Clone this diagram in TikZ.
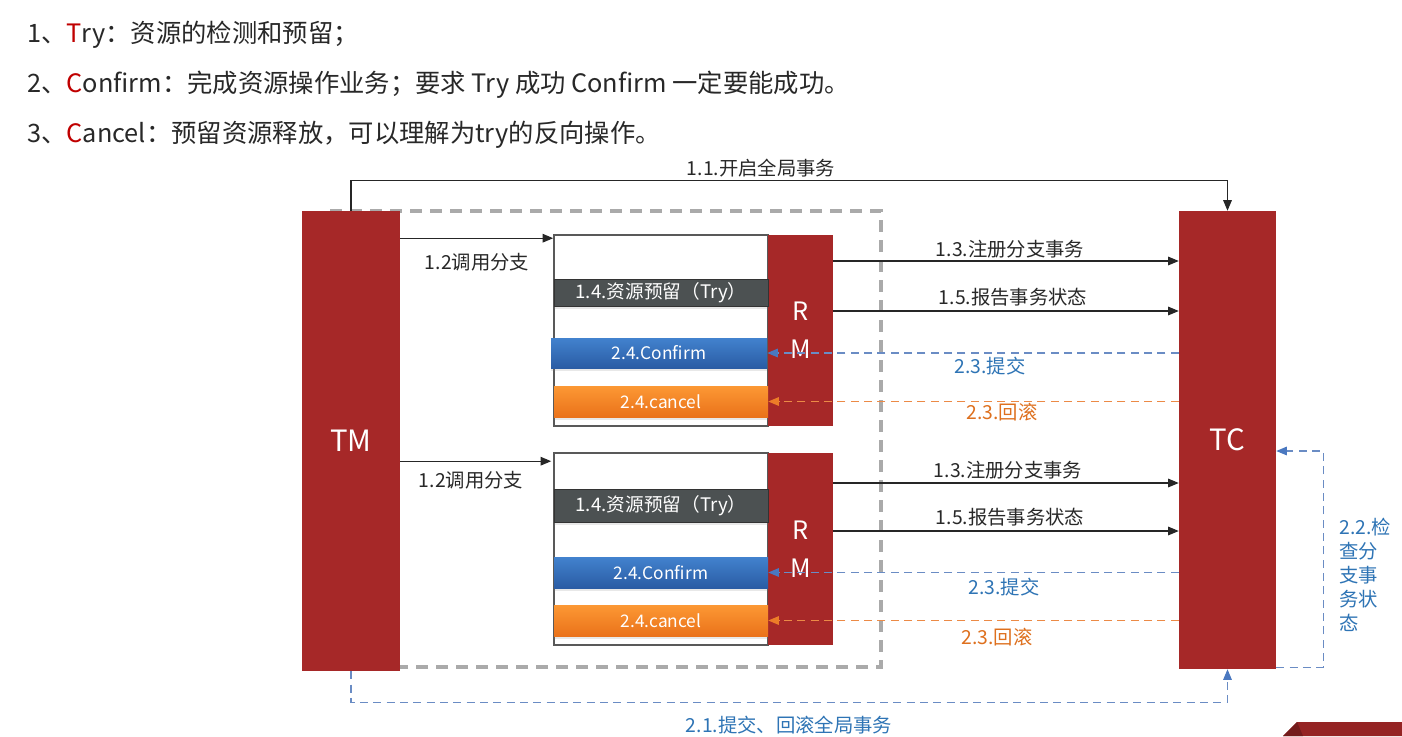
\documentclass[tikz,border=0pt]{standalone}
\usepackage{fontspec}
\setmainfont{Noto Sans CJK SC}
\usetikzlibrary{arrows.meta,fit,calc,shadows}
\definecolor{tmred}{RGB}{166,40,40}
\definecolor{trygray}{RGB}{76,81,82}
\definecolor{cftop}{RGB}{66,130,206}
\definecolor{cfbot}{RGB}{42,92,164}
\definecolor{cntop}{RGB}{252,152,52}
\definecolor{cnbot}{RGB}{234,114,26}
\definecolor{bline}{RGB}{106,140,196}
\definecolor{btip}{RGB}{74,120,192}
\definecolor{oline}{RGB}{236,138,70}
\definecolor{otip}{RGB}{236,124,40}
\definecolor{blabel}{RGB}{46,116,181}
\definecolor{olabel}{RGB}{222,112,30}
\definecolor{txt}{RGB}{40,40,40}
\definecolor{titlered}{RGB}{192,0,0}
\definecolor{dashgray}{RGB}{170,170,170}
\begin{document}
\begin{tikzpicture}[x=0.75pt,y=-0.75pt,
  redbox/.style={fill=tmred,draw=none,inner sep=0pt},
  bigtext/.style={text=white,inner sep=0pt,font=\fontsize{22pt}{26pt}\selectfont},
  rmtext/.style={text=white,inner sep=0pt,font=\fontsize{19pt}{28.5pt}\selectfont,align=center},
  bar/.style={inner sep=0pt,
    drop shadow={shadow xshift=0pt,shadow yshift=-2pt,opacity=.18}},
  bartext/.style={text=white,inner sep=0pt,font=\fontsize{13pt}{15pt}\selectfont},
  trytext/.style={bartext,font=\fontsize{14pt}{16pt}\selectfont},
  trybar/.style={bar,fill=trygray,draw=black!80,line width=0.6pt},
  cfbar/.style={bar,top color=cftop,bottom color=cfbot,draw=none},
  cnbar/.style={bar,top color=cntop,bottom color=cnbot,draw=none},
  frame/.style={draw=black!65,line width=1.2pt,fill=white,inner sep=0pt},
  lbl/.style={font=\fontsize{14.5pt}{17pt}\selectfont,text=txt,inner sep=0pt},
  blbl/.style={lbl,text=blabel},
  olbl/.style={lbl,text=olabel},
  arr/.style={draw=black!85,line width=0.8pt,-{Triangle[length=8pt,width=6.5pt]}},
  barr/.style={draw=bline,line width=0.8pt,dash pattern=on 6pt off 4pt,
    -{Triangle[length=8pt,width=6.5pt,color=btip]}},
  oarr/.style={draw=oline,line width=0.8pt,dash pattern=on 6pt off 4pt,
    -{Triangle[length=8pt,width=6.5pt,color=otip]}},
  toptext/.style={anchor=west,inner sep=0pt,text=txt,font=\fontsize{19pt}{22pt}\selectfont}
]
\useasboundingbox (0,0) rectangle (1402,736);
\fill[white] (0,0) rectangle (1402,736);

% heading text
\node[toptext] (h1) at (27,35) {1、{\color{titlered}T}ry：资源的检测和预留；};
\node[toptext] (h2) at (27,85) {2、{\color{titlered}C}onfirm：完成资源操作业务；要求 Try 成功 Confirm 一定要能成功。};
\node[toptext] (h3) at (27,135) {3、{\color{titlered}C}ancel：预留资源释放，可以理解为try的反向操作。};

% dashed gray frame
\draw[dashgray,line width=3pt,dash pattern=on 9pt off 6pt] (330,211) -- (881,211) -- (881,667) -- (330,667);

% TM and TC
\node[redbox,fit={(302,211) (400,671)}] (tm) {};
\node[bigtext] (tmt) at (tm.center) {TM};
\node[redbox,fit={(1179,211) (1276,669)}] (tc) {};
\node[bigtext] (tct) at (tc.center) {TC};

% upper branch
\node[frame,fit={(554,235) (768,426)}] (b1) {};
\node[redbox,fit={(768,235) (833,426)}] (rm1) {};
\node[rmtext] (rm1t) at (rm1.center) {R\\M};
\node[trybar,fit={(554,279) (768,306)}] (try1) {};
\node[trytext] (try1t) at (try1.center) {1.4.资源预留（Try）};
\node[cfbar,fit={(551,338) (767,368)}] (cf1) {};
\node[bartext] (cf1t) at (cf1.center) {2.4.Confirm};
\node[cnbar,fit={(554,386) (768,417)}] (cn1) {};
\node[bartext] (cn1t) at (cn1.center) {2.4.cancel};

% lower branch
\node[frame,fit={(554,453) (768,645)}] (b2) {};
\node[redbox,fit={(768,453) (833,645)}] (rm2) {};
\node[rmtext] (rm2t) at (rm2.center) {R\\M};
\node[trybar,fit={(554,489) (768,522)}] (try2) {};
\node[trytext] (try2t) at (try2.center) {1.4.资源预留（Try）};
\node[cfbar,fit={(554,557) (768,588)}] (cf2) {};
\node[bartext] (cf2t) at (cf2.center) {2.4.Confirm};
\node[cnbar,fit={(554,605) (768,636)}] (cn2) {};
\node[bartext] (cn2t) at (cn2.center) {2.4.cancel};

% 1.1
\draw[arr] (tm.north) -- ++(0,-30) -| (tc.north);
\node[lbl] (l11) at (761,168) {1.1.开启全局事务};

% 1.2
\coordinate (p1) at ($(b1.north west)+(0,4)$);
\coordinate (p2) at ($(b2.north west)+(-2,9)$);
\draw[arr] (tm.east |- p1) -- (p1);
\draw[arr] (tm.east |- p2) -- (p2);
\node[lbl] (l12a) at (477,262) {1.2调用分支};
\node[lbl] (l12b) at (471,480) {1.2调用分支};

% 1.3 / 1.5 upper
\draw[arr] (rm1.east |- 0,261) -- (tc.west |- 0,261);
\draw[arr] (rm1.east |- 0,311) -- (tc.west |- 0,311);
\node[lbl] (l13a) at (1010,249) {1.3.注册分支事务};
\node[lbl] (l15a) at (1013,297) {1.5.报告事务状态};
% 2.3 upper
\draw[barr] (tc.west |- cf1.east) -- (cf1.east);
\draw[oarr] (tc.west |- cn1.east) -- (cn1.east);
\node[blbl] (l23a) at (990,366) {2.3.提交};
\node[olbl] (l23b) at (1002,412) {2.3.回滚};

% 1.3 / 1.5 lower
\draw[arr] (rm2.east |- 0,483) -- (tc.west |- 0,483);
\draw[arr] (rm2.east |- 0,531) -- (tc.west |- 0,531);
\node[lbl] (l13b) at (1008,470) {1.3.注册分支事务};
\node[lbl] (l15b) at (1010,517) {1.5.报告事务状态};
% 2.3 lower
\draw[barr] (tc.west |- cf2.east) -- (cf2.east);
\draw[oarr] (tc.west |- cn2.east) -- (cn2.east);
\node[blbl] (l23c) at (1004,587) {2.3.提交};
\node[olbl] (l23d) at (997,637) {2.3.回滚};

% 2.2 loop
\draw[barr] ($(tc.south east)+(0,-2)$) -- ++(47,0) |- (tc.east |- 0,451);
\node[blbl,anchor=west,align=left,font=\fontsize{14.5pt}{18pt}\selectfont] (l22) at (1339,575) {2.2.检\\查分\\支事\\务状\\态};

% 2.1
\draw[barr] (tm.south) -- ++(0,31) -| (tc.south);
\node[blbl] (l21) at (789,725) {2.1.提交、回滚全局事务};

% logo fragment bottom right
\fill[tmred!90!black] (1283,736) -- (1297,722) -- (1402,722) -- (1402,736) -- cycle;
\fill[tmred!70!black] (1283,736) -- (1297,722) -- (1303,736) -- cycle;
\end{tikzpicture}
\end{document}
